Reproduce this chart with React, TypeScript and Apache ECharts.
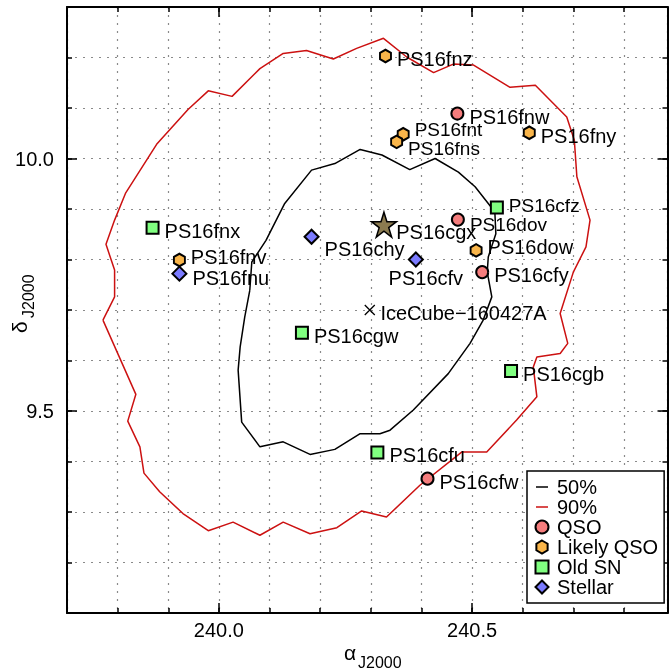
import React, { useEffect, useRef } from 'react';
import * as echarts from 'echarts';

const FONT = 'Liberation Sans';

// Axis ranges and tick labels
const xRange = [239.7, 240.886];
const yRange = [9.1, 10.3];
const xTickLabels = [240.0, 240.5];
const yTickLabels = [9.5, 10.0];

// 50% contour
const contour50RA = [240.061, 240.065, 240.093, 240.130, 240.183, 240.229, 240.279, 240.322, 240.377, 240.427, 240.473, 240.506, 240.539, 240.545, 240.547, 240.532, 240.530, 240.539, 240.522, 240.496, 240.453, 240.384, 240.338, 240.318, 240.279, 240.229, 240.180, 240.127, 240.081, 240.045, 240.038, 240.042, 240.051, 240.061];
const contour50Dec = [9.739, 9.795, 9.838, 9.911, 9.977, 9.990, 10.018, 10.007, 9.978, 10.000, 9.973, 9.944, 9.902, 9.894, 9.851, 9.805, 9.775, 9.726, 9.680, 9.634, 9.574, 9.502, 9.462, 9.455, 9.455, 9.424, 9.414, 9.439, 9.429, 9.478, 9.581, 9.627, 9.686, 9.739];

// 90% contour
const contour90RA = [239.771, 239.794, 239.794, 239.777, 239.794, 239.816, 239.877, 239.939, 239.979, 240.026, 240.081, 240.127, 240.173, 240.226, 240.272, 240.325, 240.371, 240.424, 240.463, 240.503, 240.575, 240.625, 240.687, 240.702, 240.707, 240.733, 240.725, 240.700, 240.674, 240.689, 240.674, 240.628, 240.621, 240.628, 240.588, 240.529, 240.480, 240.397, 240.331, 240.282, 240.233, 240.180, 240.127, 240.081, 240.028, 239.979, 239.929, 239.883, 239.852, 239.844, 239.820, 239.836, 239.771];
const contour90Dec = [9.680, 9.726, 9.779, 9.830, 9.878, 9.932, 10.028, 10.097, 10.134, 10.123, 10.178, 10.208, 10.214, 10.197, 10.218, 10.238, 10.201, 10.170, 10.187, 10.185, 10.141, 10.145, 10.082, 10.036, 9.964, 9.878, 9.825, 9.775, 9.693, 9.634, 9.614, 9.607, 9.587, 9.528, 9.482, 9.419, 9.419, 9.353, 9.290, 9.302, 9.269, 9.257, 9.280, 9.254, 9.280, 9.263, 9.297, 9.340, 9.377, 9.429, 9.480, 9.533, 9.680];

// Candidates
const qsoNames = ['PS16fnw', 'PS16dov', 'PS16cfy', 'PS16cfw'];
const qsoRA = [240.471, 240.472, 240.520, 240.412];
const qsoDec = [10.089, 9.879, 9.775, 9.366];

const likelyNames = ['PS16fnz', 'PS16fnt', 'PS16fns', 'PS16fny', 'PS16dow', 'PS16fnv'];
const likelyRA = [240.329, 240.364, 240.351, 240.613, 240.508, 239.922];
const likelyDec = [10.203, 10.048, 10.033, 10.051, 9.818, 9.799];

const oldSnNames = ['PS16cfz', 'PS16cgw', 'PS16cgb', 'PS16fnx', 'PS16cfu'];
const oldSnRA = [240.549, 240.164, 240.577, 239.869, 240.313];
const oldSnDec = [9.903, 9.655, 9.579, 9.863, 9.418];

const stellarNames = ['PS16chy', 'PS16cfv', 'PS16fnu'];
const stellarRA = [240.183, 240.389, 239.922];
const stellarDec = [9.845, 9.800, 9.772];

const hostNames = ['PS16cgx'];
const hostRA = [240.326];
const hostDec = [9.869];

const neutrinoNames = ['IceCube\u2212160427A'];
const neutrinoRA = [240.298];
const neutrinoDec = [9.700];

const legendNames = ['50%', '90%', 'QSO', 'Likely QSO', 'Old SN', 'Stellar'];

// label placement tweaks (style only)
const labelTweaks: Record<string, any> = {
  PS16fnt: { offset: [0, -5], fontSize: 19 },
  PS16fns: { offset: [0, 7], fontSize: 19 },
  PS16fnv: { offset: [0, -3] },
  PS16fnu: { offset: [0, 4] },
  PS16dow: { offset: [0, -3] },
  PS16cfz: { offset: [0, -2], fontSize: 19 },
  PS16dov: { offset: [0, 5], fontSize: 19 },
  PS16cgx: { distance: -1, offset: [0, 7] },
  PS16chy: { offset: [0, 12] },
  PS16cfv: { position: 'bottom', distance: 2, offset: [10, 0] },
};

const dashIcon = 'path://M0,0M20,13M4,5.75h12v1.5h-12z';
const squareIcon = 'path://M0,0h10v10h-10z';
const diamondIcon = 'path://M5,0L10,5L5,10L0,5Z';
const hexIcon = 'path://M5,0L9.33,2.5L9.33,7.5L5,10L0.67,7.5L0.67,2.5Z';
const starIcon = 'path://M50,0L61.2,34.5L97.6,34.5L68.2,55.9L79.4,90.5L50,69.1L20.6,90.5L31.8,55.9L2.4,34.5L38.8,34.5Z';
const crossIcon = 'path://M0,0L10,10M10,0L0,10';

function pts(names: string[], ra: number[], dec: number[]) {
  return names.map((n, i) => ({
    name: n,
    value: [ra[i], dec[i]],
    label: labelTweaks[n] ? { ...labelTweaks[n] } : undefined,
  }));
}

const baseLabel = {
  show: true,
  position: 'right',
  distance: 5,
  offset: [0, 3],
  color: '#000',
  opacity: 1,
  fontSize: 20,
  lineHeight: 16,
  fontFamily: FONT,
  formatter: '{b}',
};

export default function App() {
  const ref = useRef<HTMLDivElement>(null);
  useEffect(() => {
    if (!ref.current) return;
    const chart = echarts.init(ref.current, null, { renderer: 'svg' });
    const lineStyleTick = { color: '#000', width: 1.5 };
    const axisLineStyle = { color: '#000', width: 2 };
    const axisFont = { fontFamily: FONT, fontSize: 20, color: '#000' };
    const gridDash = { color: '#8a8a8a', type: [2, 6], width: 1.2 };
    const mkX = (pos: string, major: boolean, main: boolean) => ({
      type: 'value',
      position: pos,
      min: xRange[0],
      max: xRange[1],
      interval: 0.1,
      axisLine: { show: !major, onZero: false, lineStyle: axisLineStyle },
      axisTick: major
        ? { show: true, inside: true, length: 10, customValues: xTickLabels, lineStyle: lineStyleTick }
        : { show: true, inside: true, length: 5, lineStyle: lineStyleTick },
      axisLabel: main
        ? { show: true, customValues: xTickLabels, formatter: (v: number) => v.toFixed(1), margin: 7, ...axisFont }
        : { show: false },
      splitLine: main ? { show: true, lineStyle: gridDash } : { show: false },
    });
    const mkY = (pos: string, major: boolean, main: boolean) => ({
      type: 'value',
      position: pos,
      min: yRange[0],
      max: yRange[1],
      interval: 0.1,
      axisLine: { show: !major, onZero: false, lineStyle: axisLineStyle },
      axisTick: major
        ? { show: true, inside: true, length: 10, customValues: yTickLabels, lineStyle: lineStyleTick }
        : { show: true, inside: true, length: 5, lineStyle: lineStyleTick },
      axisLabel: main
        ? { show: true, customValues: yTickLabels, formatter: (v: number) => v.toFixed(1), margin: 13, ...axisFont }
        : { show: false },
      splitLine: main ? { show: true, lineStyle: gridDash } : { show: false },
    });

    const scatterBase = (name: string, symbol: string, size: any, color: string, data: any[], border = 2) => ({
      type: 'scatter',
      name,
      symbol,
      symbolSize: size,
      data,
      z: 4,
      itemStyle: { color, borderColor: '#000', borderWidth: border, opacity: 1 },
      label: { ...baseLabel },
      emphasis: { disabled: true },
    });

    chart.setOption({
      animation: false,
      textStyle: { fontFamily: FONT },
      grid: { left: 67, top: 7, right: 1.5, bottom: 58, containLabel: false },
      xAxis: [mkX('bottom', false, true), mkX('bottom', true, false), mkX('top', false, false), mkX('top', true, false)],
      yAxis: [mkY('left', false, true), mkY('left', true, false), mkY('right', false, false), mkY('right', true, false)],
      legend: {
        orient: 'vertical',
        left: 527,
        top: 471,
        padding: [6, 6, 6, 5],
        itemWidth: 20,
        itemHeight: 13,
        itemGap: 0,
        backgroundColor: '#fff',
        borderColor: '#000',
        borderWidth: 1.5,
        borderRadius: 0,
        selectedMode: false,
        textStyle: { fontSize: 20, color: '#000', fontFamily: FONT },
        data: [
          { name: legendNames[0], icon: dashIcon, itemStyle: { color: '#000', borderWidth: 0 } },
          { name: legendNames[1], icon: dashIcon, itemStyle: { color: '#cc1111', borderWidth: 0 } },
          { name: legendNames[2], icon: 'circle' },
          { name: legendNames[3], icon: hexIcon },
          { name: legendNames[4], icon: squareIcon },
          { name: legendNames[5], icon: diamondIcon },
        ],
      },
      graphic: [
        { type: 'text', x: 344, y: 652, z: 10, style: { text: '\u03b1', font: `21px "${FONT}"`, fill: '#000', align: 'left', verticalAlign: 'middle' } },
        { type: 'text', x: 358, y: 662, z: 10, style: { text: 'J2000', font: `16px "${FONT}"`, fill: '#000', align: 'left', verticalAlign: 'middle' } },
        {
          type: 'group', x: 0, y: 333, rotation: Math.PI / 2, z: 10,
          children: [
            { type: 'text', x: 0, y: 19, style: { text: '\u03b4', font: `21px "${FONT}"`, fill: '#000', align: 'left', verticalAlign: 'middle' } },
            { type: 'text', x: 15, y: 28, style: { text: 'J2000', font: `16px "${FONT}"`, fill: '#000', align: 'left', verticalAlign: 'middle' } },
          ],
        },
      ],
      series: [
        {
          type: 'line', name: legendNames[0], data: contour50RA.map((x, i) => [x, contour50Dec[i]]),
          symbol: 'none', showSymbol: false, lineStyle: { color: '#000', width: 1.5 }, itemStyle: { color: '#000' },
          z: 2, silent: true, emphasis: { disabled: true },
        },
        {
          type: 'line', name: legendNames[1], data: contour90RA.map((x, i) => [x, contour90Dec[i]]),
          symbol: 'none', showSymbol: false, lineStyle: { color: '#cc1111', width: 1.5 }, itemStyle: { color: '#cc1111' },
          z: 2, silent: true, emphasis: { disabled: true },
        },
        scatterBase(legendNames[2], 'circle', 12, '#f57d7d', pts(qsoNames, qsoRA, qsoDec)),
        scatterBase(legendNames[3], hexIcon, [11, 12.5], '#f9b54a', pts(likelyNames, likelyRA, likelyDec)),
        scatterBase(legendNames[4], 'rect', 12, '#80ff80', pts(oldSnNames, oldSnRA, oldSnDec)),
        scatterBase(legendNames[5], diamondIcon, 14, '#7b7bff', pts(stellarNames, stellarRA, stellarDec)),
        scatterBase(legendNames[2], starIcon, 25, '#8b7b50', pts(hostNames, hostRA, hostDec), 1.5),
        scatterBase(legendNames[2], crossIcon, 10, 'rgba(0,0,0,0)', pts(neutrinoNames, neutrinoRA, neutrinoDec), 1.3),
      ],
    });
    return () => chart.dispose();
  }, []);
  return <div ref={ref} style={{ position: 'fixed', left: 0, top: 0, width: 669, height: 671 }} />;
}
